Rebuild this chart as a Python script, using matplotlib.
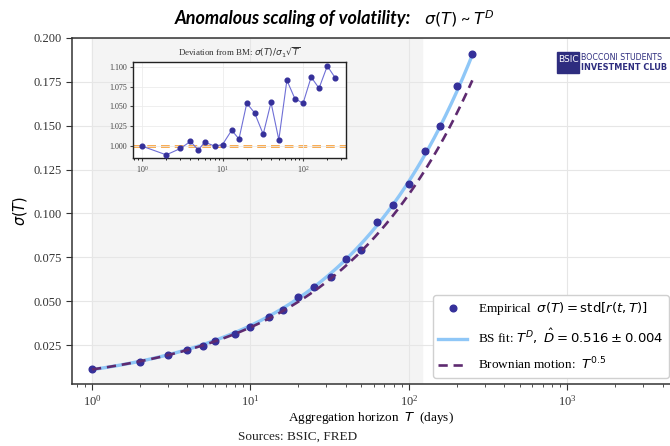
import numpy as np
import matplotlib
matplotlib.use("Agg")
import matplotlib.pyplot as plt
from matplotlib.patches import Rectangle

# aggregation horizons (days)
horizons = [1, 2, 3, 4, 5, 6, 8, 10, 13, 16, 20, 25, 32, 40, 50, 63, 79, 100, 126, 158, 200, 251]
# deviation from Brownian scaling sigma(T) / (sigma_1 sqrt(T))
ratio_bm = [1.000, 0.989, 0.997, 1.006, 0.995, 1.005, 1.000, 1.002, 1.020, 1.009, 1.054,
            1.042, 1.015, 1.055, 1.008, 1.083, 1.060, 1.054, 1.087, 1.073, 1.101, 1.086]
sigma_1 = 0.0111          # one-day volatility
fit_amp = 0.0110          # BS fit prefactor
fit_D = 0.516             # BS fit exponent
shade_end = 120           # end of shaded window (days)

T = np.array(horizons, dtype=float)
ratio = np.array(ratio_bm)
sigma_emp = sigma_1 * np.sqrt(T) * ratio
T_line = np.logspace(0, np.log10(T.max()), 200)

plt.rcParams['font.family'] = ['Liberation Serif', 'DejaVu Serif']
plt.rcParams['mathtext.fontset'] = 'dejavusans'

c_pts = '#35309a'
c_fit = '#8fc7f7'
c_bm = '#5e2a70'
c_grid = '#e6e6e6'

fig = plt.figure(figsize=(6.7, 4.46), dpi=100)
ax = fig.add_axes([0.1075, 0.139, 0.8925, 0.7758])

ax.axvspan(1, shade_end, color='#f4f4f4', zorder=0)
ax.plot(T_line, fit_amp * T_line ** fit_D, color=c_fit, lw=2.4, zorder=2,
        label=r'BS fit: $T^D,\ \hat{D} = 0.516 \pm 0.004$')
ax.plot(T, sigma_emp, 'o', color=c_pts, ms=4.8, zorder=3,
        label=r'Empirical  $\sigma(T) = \mathrm{std}[r(t,T)]$')
ax.plot(T_line, sigma_1 * np.sqrt(T_line), '--', color=c_bm, lw=1.9, zorder=4,
        dashes=(3.5, 2.2), label=r'Brownian motion:  $T^{0.5}$')

ax.set_xscale('log')
ax.set_xlim(0.748, 4436)
ax.set_ylim(0.0028, 0.2)
ax.set_yticks([0.025, 0.05, 0.075, 0.1, 0.125, 0.15, 0.175, 0.2])
ax.yaxis.set_major_formatter(matplotlib.ticker.FormatStrFormatter('%.3f'))
ax.grid(True, which='major', color=c_grid, lw=0.8, zorder=1)
ax.set_axisbelow(True)
ax.tick_params(labelsize=9, colors='#333333', length=4, direction='out')
ax.tick_params(which='minor', length=2.5, color='#333333')
for s in ['left', 'bottom', 'top']:
    ax.spines[s].set_color('#333333')
    ax.spines[s].set_linewidth(1.1)
ax.spines['right'].set_visible(False)

ax.set_ylabel(r'$\sigma(T)$', fontsize=10.5, labelpad=3)
ax.set_xlabel(r'Aggregation horizon  $T$  (days)', fontsize=9.5, labelpad=1)

h, l = ax.get_legend_handles_labels()
order = [1, 0, 2]
leg = ax.legend([h[i] for i in order], [l[i] for i in order], fontsize=9.5,
                loc='lower left', bbox_to_anchor=(433 / 670, 68 / 446),
                bbox_transform=fig.transFigure, borderaxespad=0, frameon=True,
                fancybox=True, framealpha=1, edgecolor='#d0d0d0', handlelength=2.2,
                labelspacing=0.75)

# inset: deviation from Brownian motion
ins = fig.add_axes([0.1985, 0.6457, 0.318, 0.2152])
ins.set_facecolor('white')
ins.grid(True, which='major', color='#ececec', lw=0.6, zorder=0)
ins.axhline(1.0, color='#f7931e', ls='--', lw=1.8, zorder=1, dashes=(3.5, 2))
ins.plot(T, ratio, '-', color='#6f6fd6', lw=0.8, zorder=2)
ins.plot(T, ratio, 'o', color=c_pts, ms=3.4, zorder=3)
ins.set_xscale('log')
ins.set_xlim(0.773, 342)
ins.set_ylim(0.985, 1.106)
ins.set_yticks([1.0, 1.025, 1.05, 1.075, 1.1])
ins.yaxis.set_major_formatter(matplotlib.ticker.FormatStrFormatter('%.3f'))
ins.tick_params(labelsize=5.8, colors='#444444', length=2.5, pad=2)
ins.tick_params(which='minor', length=1.5)
for s in ins.spines.values():
    s.set_color('#222222')
    s.set_linewidth(1.0)
ins.set_title(r'Deviation from BM: $\sigma(T)/\sigma_1\sqrt{T}$', fontsize=6.5,
              color='#333333', pad=4)

# title and source
fig.text(175 / 670, 0.958, 'Anomalous scaling of volatility:', fontsize=13, fontweight='bold',
         style='italic', family='Lato', ha='left', va='center')
fig.text(424 / 670, 0.958, r'$\sigma(T)$ ~ $T^D$', fontsize=11.5, ha='left', va='center',
         family='Lato')
fig.text(298 / 670, 1 - 437 / 446, 'Sources: BSIC, FRED', fontsize=9.5, ha='center',
         va='center', color='#222222')

# logo
fig.patches.append(Rectangle((557 / 670, 1 - 73 / 446), 22 / 670, 21 / 446,
                             transform=fig.transFigure, color='#2e2d7f', zorder=5))
fig.text(568 / 670, 1 - 60 / 446, 'BSIC', fontsize=6.5, color='white', ha='center',
         va='center', family='DejaVu Sans', zorder=6)
fig.text(581 / 670, 1 - 57 / 446, 'BOCCONI STUDENTS', fontsize=5.7, color='#2e2d7f',
         ha='left', va='center', family='DejaVu Sans')
fig.text(581 / 670, 1 - 67 / 446, 'INVESTMENT CLUB', fontsize=5.9, color='#2e2d7f',
         ha='left', va='center', family='DejaVu Sans', fontweight='bold')

fig.savefig('out.png', dpi=100)
